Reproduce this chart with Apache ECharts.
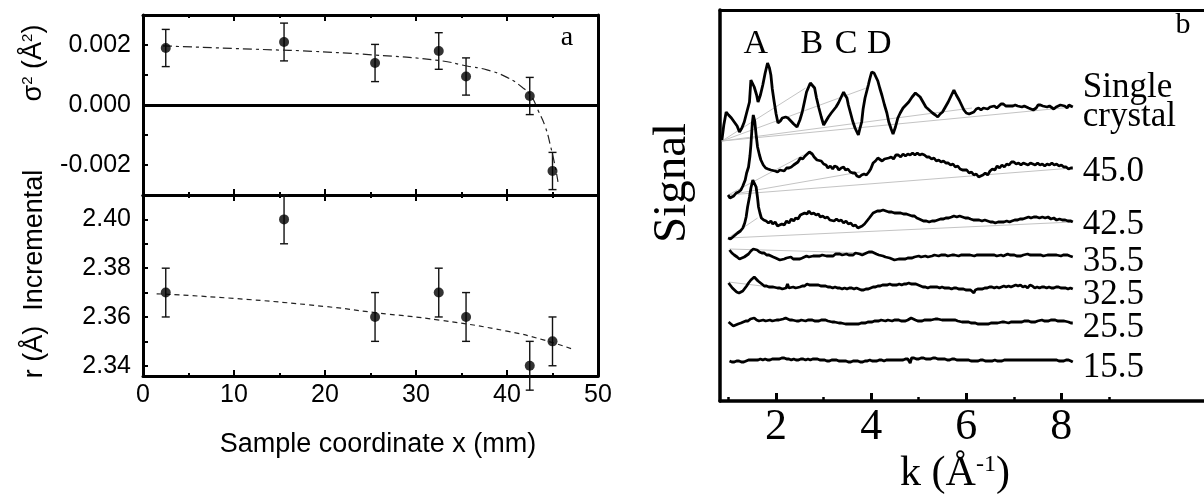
<!DOCTYPE html>
<html><head><meta charset="utf-8">
<script src="https://cdn.jsdelivr.net/npm/echarts@6/dist/echarts.min.js"></script>
<style>html,body{margin:0;padding:0;background:#fff}#c{width:1204px;height:496px}</style>
</head><body><div id="c"></div>
<script>
// ---------- Panel a data ----------
const sampleX   = [2.5, 15.5, 25.5, 32.5, 35.5, 42.5, 45.0];
const sigma2    = [0.0019, 0.0021, 0.0014, 0.0018, 0.00095, 0.0003, -0.0022];
const sigma2Err = [0.00062, 0.00063, 0.00062, 0.00061, 0.00062, 0.00062, 0.00062];
const rInc      = [2.37, 2.40, 2.36, 2.37, 2.36, 2.34, 2.35];
const rIncErr   = [0.01, 0.01, 0.01, 0.01, 0.01, 0.01, 0.01];
const sigma2Fit = [[2.2,0.00197],[15.1,0.00183],[17.3,0.00181],[25.3,0.00167],[32.6,0.00148],[35.6,0.0013],[37.8,0.00117],[40.0,0.00092],[41.8,0.00056],[42.7,0.00028],[43.4,-0.00017],[44.2,-0.00072],[44.8,-0.00139],[45.3,-0.00206],[45.6,-0.00256]];
const rIncFit   = [[1.5,2.3695],[10,2.3676],[20,2.3643],[25.5,2.3618],[32.6,2.3587],[40,2.3542],[44,2.3506],[47.3,2.3467]];
const sigmaLabelTicks = [-0.002, 0, 0.002];
const sigmaTicks = [-0.002, -0.001, 0, 0.001, 0.002];
const rLabelTicks = [2.34, 2.36, 2.38, 2.40];
const rTicks = [2.34, 2.35, 2.36, 2.37, 2.38, 2.39, 2.40];

// ---------- Panel b data ----------
const kLabelTicks = [2, 4, 6, 8];
const kMinorTicks = [1, 3, 5, 7, 9];
const peakNames = ['A', 'B', 'C', 'D'];
const peakK     = [1.57, 2.75, 3.47, 4.17];
const peakY     = [357, 357, 357, 357];
const spectrumNames = ['Single\ncrystal', '45.0', '42.5', '35.5', '32.5', '25.5', '15.5'];
const specSingle = [[0.86,261],[0.90,276],[0.95,289],[1.00,286],[1.06,283],[1.12,279],[1.18,275],[1.23,269],[1.28,273],[1.33,279],[1.39,290],[1.44,299],[1.47,321],[1.50,320],[1.54,314],[1.59,306],[1.62,299],[1.67,306],[1.72,316],[1.77,328],[1.82,338],[1.86,333],[1.89,326],[1.92,312],[1.96,299],[2.00,287],[2.04,278],[2.09,280],[2.13,283],[2.20,284],[2.25,283],[2.29,281],[2.37,277],[2.44,274],[2.50,281],[2.55,289],[2.60,300],[2.64,309],[2.72,318],[2.76,316],[2.81,313],[2.85,303],[2.90,293],[2.95,284],[3.00,276],[3.05,280],[3.10,284],[3.16,288],[3.21,291],[3.26,294],[3.31,298],[3.36,303],[3.42,309],[3.45,306],[3.49,303],[3.52,296],[3.56,289],[3.61,280],[3.66,273],[3.73,266],[3.76,272],[3.80,279],[3.83,292],[3.87,303],[3.94,316],[3.97,322],[4.01,329],[4.06,328],[4.10,326],[4.14,320],[4.18,313],[4.23,305],[4.28,296],[4.33,288],[4.37,279],[4.42,272],[4.46,267],[4.51,274],[4.56,283],[4.61,288],[4.67,293],[4.73,296],[4.79,299],[4.86,304],[4.93,308],[4.98,306],[5.03,304],[5.09,299],[5.15,294],[5.22,291],[5.29,288],[5.35,286],[5.40,284],[5.45,287],[5.50,289],[5.56,294],[5.62,299],[5.68,305],[5.74,311],[5.79,306],[5.85,301],[5.90,296],[5.95,291],[6.00,288],[6.06,287],[6.11,288],[6.16,289],[6.21,292],[6.26,293],[6.31,291],[6.36,293],[6.40,293],[6.45,292],[6.50,294],[6.54,293],[6.59,295],[6.64,293],[6.68,294],[6.73,297],[6.78,297],[6.83,295],[6.89,295],[6.93,297],[6.98,295],[7.03,296],[7.08,295],[7.12,293],[7.17,294],[7.22,295],[7.26,293],[7.31,293],[7.36,292],[7.41,291],[7.44,290],[7.47,293],[7.51,296],[7.56,296],[7.61,295],[7.65,296],[7.70,294],[7.75,295],[7.79,294],[7.84,292],[7.89,294],[7.93,294],[7.98,296],[8.02,295],[8.07,295],[8.12,293],[8.16,296],[8.20,295],[8.24,294]];
const spec450 = [[0.99,206],[1.03,203],[1.07,201],[1.11,205],[1.16,208],[1.21,209],[1.26,211],[1.30,215],[1.35,221],[1.38,228],[1.42,234],[1.45,245],[1.47,256],[1.50,278],[1.52,286],[1.55,280],[1.58,266],[1.61,254],[1.65,246],[1.68,241],[1.73,236],[1.78,233],[1.83,232],[1.89,231],[1.93,233],[1.98,230],[2.03,229],[2.08,231],[2.12,229],[2.17,230],[2.22,233],[2.27,233],[2.32,234],[2.37,236],[2.41,235],[2.46,239],[2.51,243],[2.56,242],[2.61,245],[2.65,246],[2.70,249],[2.76,247],[2.80,244],[2.86,241],[2.90,239],[2.95,240],[3.00,237],[3.05,236],[3.09,233],[3.14,235],[3.19,232],[3.23,235],[3.28,234],[3.32,231],[3.37,233],[3.42,234],[3.46,231],[3.51,232],[3.56,229],[3.61,228],[3.66,228],[3.70,225],[3.75,224],[3.80,226],[3.85,227],[3.90,226],[3.95,229],[3.99,232],[4.04,238],[4.09,240],[4.14,243],[4.18,241],[4.23,240],[4.28,242],[4.32,241],[4.37,243],[4.42,244],[4.47,242],[4.52,246],[4.57,246],[4.62,244],[4.67,247],[4.72,245],[4.77,247],[4.82,246],[4.87,248],[4.92,246],[4.97,248],[5.02,246],[5.07,247],[5.12,246],[5.17,244],[5.22,244],[5.27,242],[5.32,243],[5.37,240],[5.42,241],[5.47,239],[5.52,240],[5.57,238],[5.62,238],[5.67,236],[5.72,237],[5.77,234],[5.82,235],[5.87,232],[5.92,231],[5.96,229],[6.01,231],[6.06,228],[6.11,229],[6.16,226],[6.21,227],[6.26,224],[6.30,225],[6.35,226],[6.40,228],[6.45,226],[6.50,230],[6.55,232],[6.60,231],[6.65,235],[6.70,233],[6.75,236],[6.80,234],[6.85,237],[6.90,236],[6.95,239],[7.00,239],[7.05,237],[7.10,238],[7.15,236],[7.20,238],[7.25,237],[7.30,236],[7.35,238],[7.40,237],[7.45,236],[7.50,238],[7.55,236],[7.60,237],[7.65,235],[7.70,237],[7.75,236],[7.80,238],[7.85,236],[7.90,237],[7.95,235],[8.00,236],[8.05,234],[8.10,234],[8.15,232],[8.20,233],[8.24,233]];
const spec425 = [[0.99,163],[1.04,162],[1.09,164],[1.14,166],[1.19,168],[1.25,170],[1.30,173],[1.34,178],[1.37,184],[1.40,194],[1.44,204],[1.47,213],[1.51,221],[1.54,219],[1.58,214],[1.61,203],[1.63,194],[1.66,188],[1.69,183],[1.74,181],[1.79,180],[1.84,178],[1.89,180],[1.93,177],[1.98,179],[2.03,175],[2.07,174],[2.12,177],[2.17,176],[2.22,180],[2.27,178],[2.32,182],[2.37,180],[2.41,183],[2.46,182],[2.51,186],[2.55,184],[2.60,188],[2.65,187],[2.69,190],[2.74,187],[2.79,188],[2.84,186],[2.89,187],[2.93,184],[2.98,185],[3.03,183],[3.08,184],[3.13,181],[3.17,183],[3.22,180],[3.27,182],[3.32,180],[3.37,181],[3.42,178],[3.47,180],[3.52,177],[3.57,178],[3.62,175],[3.67,176],[3.72,173],[3.76,172],[3.81,175],[3.86,177],[3.91,180],[3.96,183],[4.00,184],[4.04,188],[4.08,189],[4.13,190],[4.19,190],[4.25,191],[4.31,190],[4.37,189],[4.43,189],[4.49,188],[4.56,188],[4.62,188],[4.68,187],[4.74,187],[4.80,186],[4.86,185],[4.91,185],[4.96,183],[5.01,182],[5.05,181],[5.10,180],[5.16,180],[5.22,179],[5.28,180],[5.34,180],[5.40,181],[5.46,182],[5.52,182],[5.57,183],[5.63,183],[5.69,184],[5.74,185],[5.80,184],[5.86,185],[5.92,184],[5.98,183],[6.04,183],[6.09,182],[6.15,181],[6.21,181],[6.27,181],[6.33,180],[6.39,181],[6.45,180],[6.51,179],[6.56,179],[6.61,178],[6.67,179],[6.73,179],[6.79,179],[6.85,180],[6.91,179],[6.96,180],[7.02,181],[7.08,181],[7.13,182],[7.19,182],[7.25,183],[7.31,184],[7.36,183],[7.42,184],[7.48,184],[7.54,183],[7.60,184],[7.66,183],[7.72,184],[7.78,182],[7.84,183],[7.90,181],[7.96,182],[8.02,181],[8.08,181],[8.14,180],[8.20,180],[8.24,179]];
const spec355 = [[1.02,151],[1.07,148],[1.12,146],[1.18,144],[1.23,142],[1.28,143],[1.33,144],[1.37,144],[1.42,147],[1.47,150],[1.52,152],[1.56,153],[1.60,151],[1.65,149],[1.70,148],[1.75,148],[1.80,146],[1.85,146],[1.89,145],[1.94,144],[1.99,143],[2.03,143],[2.08,141],[2.12,143],[2.17,142],[2.22,143],[2.26,142],[2.31,144],[2.36,142],[2.41,142],[2.45,141],[2.50,142],[2.55,143],[2.59,143],[2.64,145],[2.69,144],[2.73,144],[2.78,145],[2.83,145],[2.87,146],[2.92,145],[2.97,146],[3.01,146],[3.06,145],[3.11,145],[3.15,146],[3.20,145],[3.25,147],[3.29,146],[3.34,147],[3.39,146],[3.43,146],[3.48,147],[3.53,146],[3.57,147],[3.62,146],[3.67,148],[3.71,147],[3.76,147],[3.81,146],[3.85,147],[3.90,148],[3.95,149],[3.99,150],[4.02,149],[4.06,147],[4.11,147],[4.16,146],[4.20,145],[4.25,145],[4.30,144],[4.34,144],[4.39,143],[4.44,142],[4.49,141],[4.53,141],[4.58,142],[4.63,142],[4.67,143],[4.72,142],[4.77,143],[4.81,144],[4.86,143],[4.91,144],[4.95,144],[5.00,145],[5.05,144],[5.09,145],[5.14,145],[5.19,144],[5.23,145],[5.28,145],[5.33,146],[5.37,146],[5.42,145],[5.47,146],[5.51,145],[5.56,146],[5.61,145],[5.65,145],[5.70,146],[5.75,146],[5.79,146],[5.84,145],[5.89,146],[5.93,145],[5.98,146],[6.03,146],[6.08,146],[6.12,145],[6.17,145],[6.22,146],[6.26,145],[6.31,146],[6.36,146],[6.40,146],[6.45,146],[6.50,146],[6.54,145],[6.59,146],[6.64,145],[6.68,146],[6.73,146],[6.78,145],[6.82,146],[6.87,147],[6.92,146],[6.96,146],[7.01,146],[7.06,145],[7.10,146],[7.15,145],[7.20,146],[7.24,146],[7.29,147],[7.34,146],[7.38,145],[7.43,146],[7.48,146],[7.52,145],[7.57,146],[7.62,145],[7.66,146],[7.71,146],[7.76,146],[7.80,147],[7.85,146],[7.90,146],[7.94,146],[7.99,145],[8.04,146],[8.08,145],[8.13,146],[8.18,145],[8.22,145],[8.24,144]];
const spec325 = [[1.00,118],[1.04,116],[1.08,113],[1.12,111],[1.17,109],[1.22,108],[1.26,108],[1.30,110],[1.34,112],[1.38,115],[1.42,118],[1.47,121],[1.51,123],[1.54,124],[1.58,122],[1.62,120],[1.66,118],[1.70,117],[1.75,115],[1.80,115],[1.85,114],[1.89,113],[1.94,114],[1.98,112],[2.03,113],[2.08,113],[2.13,112],[2.17,114],[2.21,113],[2.24,117],[2.27,113],[2.31,113],[2.36,114],[2.41,113],[2.45,115],[2.50,114],[2.55,115],[2.60,115],[2.65,117],[2.70,116],[2.74,117],[2.79,116],[2.84,116],[2.89,116],[2.94,115],[2.99,115],[3.04,115],[3.09,114],[3.14,114],[3.19,113],[3.24,114],[3.29,113],[3.34,113],[3.39,112],[3.44,113],[3.49,112],[3.54,113],[3.59,113],[3.64,112],[3.69,113],[3.74,112],[3.79,111],[3.84,111],[3.89,112],[3.94,112],[3.99,113],[4.04,114],[4.09,114],[4.14,115],[4.19,115],[4.24,116],[4.29,116],[4.34,116],[4.39,117],[4.44,116],[4.49,116],[4.54,116],[4.59,117],[4.64,116],[4.69,117],[4.74,117],[4.79,118],[4.84,117],[4.89,117],[4.94,117],[4.99,116],[5.04,115],[5.09,114],[5.14,114],[5.19,113],[5.24,114],[5.29,114],[5.34,114],[5.39,114],[5.44,113],[5.49,114],[5.54,113],[5.59,113],[5.64,113],[5.69,112],[5.74,113],[5.79,113],[5.84,112],[5.89,112],[5.94,112],[5.99,111],[6.04,111],[6.09,111],[6.13,110],[6.16,108],[6.19,111],[6.24,112],[6.29,112],[6.34,112],[6.39,113],[6.44,113],[6.49,114],[6.54,114],[6.59,113],[6.64,114],[6.69,113],[6.74,114],[6.79,115],[6.84,114],[6.89,115],[6.94,114],[6.99,115],[7.04,116],[7.09,115],[7.14,116],[7.19,114],[7.24,115],[7.29,113],[7.34,116],[7.39,115],[7.44,113],[7.49,114],[7.54,113],[7.59,114],[7.64,114],[7.69,113],[7.74,114],[7.79,113],[7.84,113],[7.89,114],[7.94,114],[7.99,113],[8.04,113],[8.09,113],[8.14,112],[8.19,113],[8.24,112]];
const spec255 = [[1.00,79],[1.05,77],[1.10,75],[1.15,76],[1.20,77],[1.26,78],[1.31,79],[1.36,80],[1.41,80],[1.46,82],[1.50,83],[1.54,83],[1.59,81],[1.64,80],[1.68,80],[1.73,81],[1.78,80],[1.82,80],[1.87,81],[1.92,80],[1.96,81],[2.01,81],[2.06,81],[2.10,81],[2.15,82],[2.20,83],[2.24,82],[2.29,81],[2.34,81],[2.38,80],[2.43,80],[2.48,80],[2.53,81],[2.57,80],[2.62,80],[2.67,81],[2.71,80],[2.76,81],[2.81,80],[2.85,80],[2.90,80],[2.95,81],[2.99,80],[3.04,81],[3.09,80],[3.13,80],[3.18,79],[3.23,79],[3.27,79],[3.32,78],[3.37,78],[3.41,78],[3.46,77],[3.51,77],[3.55,77],[3.60,77],[3.65,77],[3.69,78],[3.74,77],[3.79,78],[3.83,78],[3.88,78],[3.93,79],[3.97,79],[4.02,79],[4.07,80],[4.11,80],[4.16,80],[4.21,81],[4.25,81],[4.30,80],[4.35,81],[4.39,80],[4.44,80],[4.49,81],[4.53,80],[4.58,81],[4.63,80],[4.67,80],[4.72,80],[4.77,81],[4.81,82],[4.84,83],[4.88,81],[4.93,81],[4.98,80],[5.02,80],[5.07,80],[5.12,81],[5.16,81],[5.21,81],[5.26,81],[5.30,82],[5.35,82],[5.40,82],[5.44,81],[5.49,81],[5.54,81],[5.58,80],[5.63,81],[5.68,81],[5.72,80],[5.77,81],[5.82,80],[5.86,80],[5.91,79],[5.96,79],[6.00,79],[6.05,79],[6.10,78],[6.14,78],[6.19,78],[6.24,77],[6.28,77],[6.33,77],[6.38,77],[6.42,77],[6.47,77],[6.52,78],[6.56,78],[6.61,78],[6.66,78],[6.70,79],[6.75,79],[6.80,79],[6.84,78],[6.89,78],[6.94,79],[6.98,79],[7.03,79],[7.08,79],[7.12,79],[7.17,79],[7.22,80],[7.26,80],[7.31,80],[7.36,79],[7.40,80],[7.45,79],[7.50,80],[7.54,81],[7.59,81],[7.64,80],[7.68,80],[7.73,80],[7.78,81],[7.82,81],[7.87,81],[7.92,80],[7.96,80],[8.01,80],[8.06,80],[8.10,79],[8.15,79],[8.20,78],[8.24,78]];
const spec155 = [[1.02,40],[1.07,39],[1.12,39],[1.17,40],[1.22,40],[1.27,39],[1.32,39],[1.37,40],[1.42,41],[1.47,41],[1.52,41],[1.57,41],[1.62,41],[1.67,42],[1.72,41],[1.77,42],[1.82,41],[1.87,41],[1.92,42],[1.97,42],[2.02,42],[2.07,42],[2.12,43],[2.17,43],[2.22,42],[2.27,42],[2.32,41],[2.37,42],[2.42,41],[2.47,41],[2.52,42],[2.57,42],[2.62,41],[2.67,42],[2.72,41],[2.77,42],[2.82,42],[2.87,42],[2.92,41],[2.97,41],[3.02,41],[3.07,40],[3.12,40],[3.17,41],[3.22,41],[3.27,41],[3.32,40],[3.37,40],[3.42,40],[3.47,40],[3.52,39],[3.57,39],[3.62,40],[3.67,40],[3.72,40],[3.77,39],[3.82,39],[3.87,40],[3.92,40],[3.97,41],[4.02,40],[4.07,40],[4.12,40],[4.17,41],[4.22,41],[4.27,40],[4.32,41],[4.37,41],[4.42,41],[4.47,41],[4.52,41],[4.57,41],[4.62,41],[4.67,41],[4.72,42],[4.77,42],[4.80,43],[4.82,38],[4.85,43],[4.90,43],[4.95,42],[5.00,42],[5.05,43],[5.10,43],[5.15,42],[5.20,42],[5.25,42],[5.30,43],[5.35,43],[5.40,42],[5.45,42],[5.50,42],[5.55,42],[5.60,41],[5.65,41],[5.70,42],[5.75,42],[5.80,41],[5.85,41],[5.90,41],[5.95,41],[6.00,41],[6.05,41],[6.10,40],[6.15,40],[6.20,40],[6.25,40],[6.30,41],[6.35,41],[6.40,40],[6.45,40],[6.50,40],[6.55,40],[6.60,41],[6.65,40],[6.70,40],[6.75,40],[6.80,41],[6.85,41],[6.90,41],[6.95,41],[7.00,41],[7.05,41],[7.10,41],[7.15,41],[7.20,41],[7.25,41],[7.30,41],[7.35,41],[7.40,41],[7.45,41],[7.50,41],[7.55,41],[7.60,41],[7.65,41],[7.70,41],[7.75,41],[7.80,41],[7.85,41],[7.90,41],[7.95,40],[8.00,40],[8.05,40],[8.10,41],[8.15,41],[8.20,40],[8.24,39]];
const spectra = [specSingle, spec450, spec425, spec355, spec325, spec255, spec155];
// faint grey baseline strokes seen behind the spectra: [k0, s0, k1, s1]
const guideLines = [[0.86,260,2.62,313],[0.86,260,3.90,313],[0.86,260,6.12,293],[0.86,260,8.24,294],[0.99,206,2.58,246],[0.99,206,3.76,229],[0.99,206,8.24,233],[0.99,163,1.61,183],[0.99,163,8.24,179],[1.02,152,3.9,148],[1.00,119,1.7,115]];

// label placement style (pixels), one per spectrum
const endLabelOffsetY = [-5, 4, 3, 5, 6, 5, 6];

const SANS = "'Liberation Sans', Arial, sans-serif";
const SERIF = "'Liberation Serif', 'Times New Roman', serif";

function errRender(params, api) {
  const x = api.value(0), y = api.value(1), e = api.value(2);
  const hi = api.coord([x, y + e]), lo = api.coord([x, y - e]);
  const hw = 4, st = {stroke: '#111', lineWidth: 1.4};
  return {type: 'group', children: [
    {type: 'line', shape: {x1: hi[0], y1: hi[1], x2: lo[0], y2: lo[1]}, style: st},
    {type: 'line', shape: {x1: hi[0]-hw, y1: hi[1], x2: hi[0]+hw, y2: hi[1]}, style: st},
    {type: 'line', shape: {x1: lo[0]-hw, y1: lo[1], x2: lo[0]+hw, y2: lo[1]}, style: st}
  ]};
}
function guideRender(params, api) {
  const a = api.coord([api.value(0), api.value(1)]);
  const b = api.coord([api.value(2), api.value(3)]);
  return {type: 'line', shape: {x1: a[0], y1: a[1], x2: b[0], y2: b[1]}, style: {stroke: '#c4c4c4', lineWidth: 1}};
}

const frameLine = {show: true, onZero: false, lineStyle: {color: '#000', width: 3}};
function xAxisA(grid, pos, showLabel) {
  return {type: 'value', gridIndex: grid, position: pos, min: 0, max: 50, interval: 10,
    axisLine: frameLine, splitLine: {show: false},
    axisTick: {show: true, inside: true, length: 6, lineStyle: {color: '#000', width: 2}},
    minorTick: {show: true, splitNumber: 2, length: 3, lineStyle: {color: '#000', width: 2}},
    minorSplitLine: {show: false},
    axisLabel: {show: showLabel, color: '#000', fontFamily: SANS, fontSize: 25, margin: 7}};
}

const option = {
  animation: false,
  backgroundColor: '#fff',
  grid: [
    {left: 143, top: 15, width: 455, height: 180},
    {left: 143, top: 195, width: 455, height: 181},
    {left: 720, top: 10, width: 489.6, height: 391}
  ],
  xAxis: [
    xAxisA(0, 'bottom', false),
    xAxisA(0, 'top', false),
    xAxisA(1, 'bottom', true),
    xAxisA(1, 'top', false),
    {type: 'value', gridIndex: 2, position: 'bottom', min: 0.82, max: 11,
      axisLine: {show: true, onZero: false, lineStyle: {color: '#000', width: 3.5}}, splitLine: {show: false},
      axisTick: {show: true, inside: true, length: 8, customValues: kLabelTicks, lineStyle: {color: '#000', width: 3}},
      axisLabel: {show: true, customValues: kLabelTicks, color: '#000', fontFamily: SERIF, fontSize: 44, margin: 4}},
    {type: 'value', gridIndex: 2, position: 'bottom', min: 0.82, max: 11,
      axisLine: {show: false, onZero: false}, splitLine: {show: false},
      axisTick: {show: true, inside: true, length: 4, customValues: kMinorTicks, lineStyle: {color: '#000', width: 2.5}},
      axisLabel: {show: false}},
    {type: 'value', gridIndex: 2, position: 'top', min: 0.82, max: 11,
      axisLine: {show: true, onZero: false, lineStyle: {color: '#000', width: 3}}, splitLine: {show: false},
      axisTick: {show: false}, axisLabel: {show: false}}
  ],
  yAxis: [
    {type: 'value', gridIndex: 0, position: 'left', min: -0.003, max: 0.003,
      axisLine: frameLine, splitLine: {show: false},
      axisTick: {show: true, inside: true, length: 5, customValues: sigmaTicks, lineStyle: {color: '#000', width: 2}},
      axisLabel: {show: true, customValues: sigmaLabelTicks, formatter: v => (Math.abs(v) < 1e-9 ? 0 : v).toFixed(3), color: '#000', fontFamily: SANS, fontSize: 25, margin: 12}},
    {type: 'value', gridIndex: 0, position: 'right', min: -0.003, max: 0.003,
      axisLine: frameLine, splitLine: {show: false}, axisTick: {show: false}, axisLabel: {show: false}},
    {type: 'value', gridIndex: 1, position: 'left', min: 2.3358, max: 2.41,
      axisLine: frameLine, splitLine: {show: false},
      axisTick: {show: true, inside: true, length: 5, customValues: rTicks, lineStyle: {color: '#000', width: 2}},
      axisLabel: {show: true, customValues: rLabelTicks, formatter: v => v.toFixed(2), color: '#000', fontFamily: SANS, fontSize: 25, margin: 12}},
    {type: 'value', gridIndex: 1, position: 'right', min: 2.3358, max: 2.41,
      axisLine: frameLine, splitLine: {show: false}, axisTick: {show: false}, axisLabel: {show: false}},
    {type: 'value', gridIndex: 2, position: 'left', min: 0, max: 391,
      axisLine: {show: true, onZero: false, lineStyle: {color: '#000', width: 3.5}}, splitLine: {show: false},
      axisTick: {show: false}, axisLabel: {show: false}}
  ],
  series: [
    {type: 'line', xAxisIndex: 0, yAxisIndex: 0, data: sigma2Fit, showSymbol: false, smooth: true,
      lineStyle: {color: '#222', width: 1.2, type: [9, 4, 3, 4]},
      markLine: {silent: true, symbol: 'none', label: {show: false},
        lineStyle: {color: '#000', width: 3, type: 'solid'}, data: [{yAxis: 0}]}},
    {type: 'custom', xAxisIndex: 0, yAxisIndex: 0, renderItem: errRender, encode: {x: 0, y: 1},
      data: sampleX.map((x, i) => [x, sigma2[i], sigma2Err[i]]), z: 3},
    {type: 'scatter', xAxisIndex: 0, yAxisIndex: 0, symbol: 'circle', symbolSize: 10,
      itemStyle: {color: '#000'}, data: sampleX.map((x, i) => [x, sigma2[i]]), z: 4},
    {type: 'line', xAxisIndex: 2, yAxisIndex: 2, data: rIncFit, showSymbol: false, smooth: true,
      lineStyle: {color: '#222', width: 1.2, type: [5, 4]}},
    {type: 'custom', xAxisIndex: 2, yAxisIndex: 2, renderItem: errRender, encode: {x: 0, y: 1}, clip: false,
      data: sampleX.map((x, i) => [x, rInc[i], rIncErr[i]]), z: 3},
    {type: 'scatter', xAxisIndex: 2, yAxisIndex: 2, symbol: 'circle', symbolSize: 10,
      itemStyle: {color: '#000'}, data: sampleX.map((x, i) => [x, rInc[i]]), z: 4},
    {type: 'custom', xAxisIndex: 4, yAxisIndex: 4, renderItem: guideRender, encode: {x: [0, 2], y: [1, 3]},
      data: guideLines, z: 1, silent: true},
    ...spectra.map((d, i) => ({
      type: 'line', name: spectrumNames[i], xAxisIndex: 4, yAxisIndex: 4, data: d, showSymbol: false, z: 2,
      lineStyle: {color: '#000', width: 2.8},
      endLabel: {show: true, formatter: '{a}', color: '#000', fontFamily: SERIF, fontSize: 35,
        lineHeight: 29, distance: 10, offset: [0, endLabelOffsetY[i]]}
    }))
  ],
  graphic: [
    {type: 'text', x: 567, y: 38, style: {text: 'a', font: '28px ' + SERIF, fill: '#000', align: 'center', verticalAlign: 'middle'}},
    {type: 'text', x: 1183, y: 25, style: {text: 'b', font: '30px ' + SERIF, fill: '#000', align: 'center', verticalAlign: 'middle'}},
    {type: 'text', x: 378, y: 445, style: {text: 'Sample coordinate x (mm)', font: '27px ' + SANS, fill: '#000', align: 'center', verticalAlign: 'middle'}},
    {type: 'text', x: 34, y: 63, rotation: Math.PI / 2, style: {text: 'σ{sup|2} (Å{sup|2})', font: '27px ' + SANS, fill: '#000', align: 'center', verticalAlign: 'middle',
      rich: {sup: {fontSize: 15, fontFamily: SANS, verticalAlign: 'top', fill: '#000'}}}},
    {type: 'text', x: 35, y: 274, rotation: Math.PI / 2, style: {text: 'r (Å)  Incremental', font: '27px ' + SANS, fill: '#000', align: 'center', verticalAlign: 'middle'}},
    {type: 'text', x: 673, y: 183, rotation: Math.PI / 2, style: {text: 'Signal', font: '47px ' + SERIF, fill: '#000', align: 'center', verticalAlign: 'middle'}},
    {type: 'text', x: 955, y: 474, style: {text: 'k (Å{sup|-1})', font: '42px ' + SERIF, fill: '#000', align: 'center', verticalAlign: 'middle',
      rich: {sup: {fontSize: 24, fontFamily: SERIF, verticalAlign: 'top', fill: '#000'}}}}
  ]
};
const chart = echarts.init(document.getElementById('c'), null, {renderer: 'canvas'});
chart.setOption(option);
// peak letters placed through the k axis of panel b
const peakGraphics = peakNames.map((n, i) => {
  const p = chart.convertToPixel({seriesIndex: 7}, [peakK[i], peakY[i]]);
  return {type: 'text', x: p[0], y: p[1], style: {text: n, font: '34px ' + SERIF, fill: '#000', align: 'center', verticalAlign: 'middle'}};
});
chart.setOption({graphic: option.graphic.concat(peakGraphics)});
</script>
</body></html>
